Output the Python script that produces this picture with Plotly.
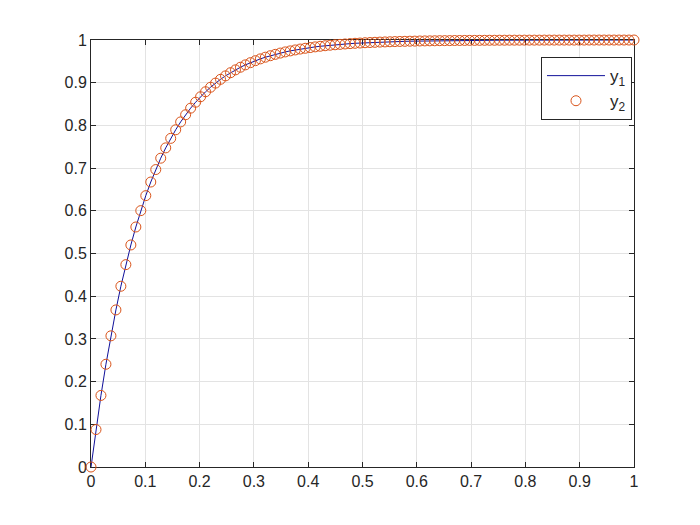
import plotly.graph_objects as go

# sample times
t = [0, 0.0092, 0.0183, 0.0275, 0.0367, 0.0459, 0.0550, 0.0642, 0.0734, 0.0826,
     0.0917, 0.1009, 0.1101, 0.1193, 0.1284, 0.1376, 0.1468, 0.1560, 0.1651, 0.1743,
     0.1835, 0.1927, 0.2018, 0.2110, 0.2202, 0.2294, 0.2385, 0.2477, 0.2569, 0.2661,
     0.2752, 0.2844, 0.2936, 0.3028, 0.3119, 0.3211, 0.3303, 0.3394, 0.3486, 0.3578,
     0.3670, 0.3761, 0.3853, 0.3945, 0.4037, 0.4128, 0.4220, 0.4312, 0.4404, 0.4495,
     0.4587, 0.4679, 0.4771, 0.4862, 0.4954, 0.5046, 0.5138, 0.5229, 0.5321, 0.5413,
     0.5505, 0.5596, 0.5688, 0.5780, 0.5872, 0.5963, 0.6055, 0.6147, 0.6239, 0.6330,
     0.6422, 0.6514, 0.6606, 0.6697, 0.6789, 0.6881, 0.6972, 0.7064, 0.7156, 0.7248,
     0.7339, 0.7431, 0.7523, 0.7615, 0.7706, 0.7798, 0.7890, 0.7982, 0.8073, 0.8165,
     0.8257, 0.8349, 0.8440, 0.8532, 0.8624, 0.8716, 0.8807, 0.8899, 0.8991, 0.9083,
     0.9174, 0.9266, 0.9358, 0.9450, 0.9541, 0.9633, 0.9725, 0.9817, 0.9908, 1.0]

# response values
y = [0, 0.0877, 0.1676, 0.2406, 0.3072, 0.3679, 0.4233, 0.4739, 0.5200, 0.5621,
     0.6004, 0.6355, 0.6674, 0.6966, 0.7232, 0.7474, 0.7696, 0.7898, 0.8082, 0.8250,
     0.8404, 0.8543, 0.8671, 0.8788, 0.8894, 0.8991, 0.9079, 0.9160, 0.9234, 0.9301,
     0.9362, 0.9418, 0.9469, 0.9516, 0.9558, 0.9597, 0.9632, 0.9664, 0.9694, 0.9721,
     0.9745, 0.9767, 0.9788, 0.9806, 0.9823, 0.9839, 0.9853, 0.9866, 0.9878, 0.9888,
     0.9898, 0.9907, 0.9915, 0.9923, 0.9929, 0.9936, 0.9941, 0.9946, 0.9951, 0.9955,
     0.9959, 0.9963, 0.9966, 0.9969, 0.9972, 0.9974, 0.9977, 0.9979, 0.9980, 0.9982,
     0.9984, 0.9985, 0.9986, 0.9988, 0.9989, 0.9990, 0.9991, 0.9991, 0.9992, 0.9993,
     0.9994, 0.9994, 0.9995, 0.9995, 0.9996, 0.9996, 0.9996, 0.9997, 0.9997, 0.9997,
     0.9997, 0.9998, 0.9998, 0.9998, 0.9998, 0.9998, 0.9998, 0.9998, 0.9998, 0.9998,
     0.9999, 0.9999, 0.9999, 0.9999, 0.9999, 0.9999, 0.9999, 0.9999, 0.9999, 1.0]

tick_vals = [0, 0.1, 0.2, 0.3, 0.4, 0.5, 0.6, 0.7, 0.8, 0.9, 1]
tick_text = ["0", "0.1", "0.2", "0.3", "0.4", "0.5", "0.6", "0.7", "0.8", "0.9", "1"]

FONT = "Liberation Sans, Arial, sans-serif"

fig = go.Figure()
fig.add_trace(go.Scatter(x=t, y=y, mode="lines", name="y<sub>1</sub>",
                         line=dict(color="#10109a", width=1), cliponaxis=False))
fig.add_trace(go.Scatter(x=t, y=y, mode="markers", name="y<sub>2</sub>",
                         marker=dict(symbol="circle-open", size=10,
                                     color="#D95319", line=dict(width=1)),
                         cliponaxis=False))

axis_common = dict(
    range=[0, 1], tickvals=tick_vals, ticktext=tick_text,
    showgrid=True, gridcolor="#e3e3e3", gridwidth=1,
    zeroline=False, showline=True, linecolor="#262626", linewidth=1,
    mirror="ticks", ticks="inside", ticklen=5, tickcolor="#262626",
    tickfont=dict(family=FONT, size=16, color="#262626"),
    layer="below traces",
)
fig.update_xaxes(**axis_common)
fig.update_yaxes(**axis_common)

fig.update_layout(
    width=692, height=517,
    margin=dict(l=83, r=66, t=32, b=58),
    paper_bgcolor="white", plot_bgcolor="white",
    showlegend=True,
    legend=dict(x=0.9963, y=0.960, xanchor="right", yanchor="top",
                bgcolor="white", bordercolor="#262626", borderwidth=1,
                font=dict(family=FONT, size=17, color="#262626"),
                itemwidth=58, tracegroupgap=4),
)

fig.write_html("out.html")
